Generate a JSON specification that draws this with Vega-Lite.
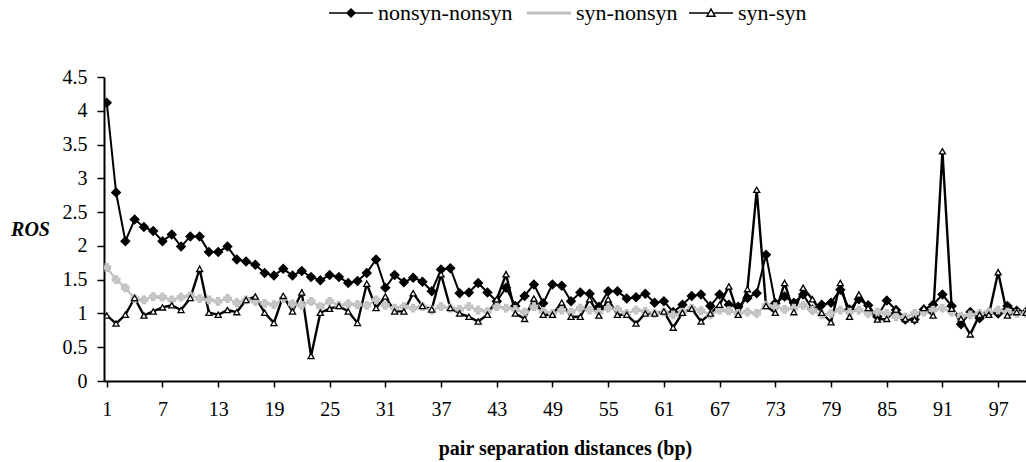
{
  "$schema": "https://vega.github.io/schema/vega-lite/v6.json",
  "width": 922,
  "height": 304,
  "autosize": {"type": "none"},
  "padding": {"left": 104, "top": 77, "right": 0, "bottom": 81},
  "background": "white",
  "config": {
    "view": {"stroke": null},
    "font": "Liberation Serif",
    "axis": {"grid": false, "labelFont": "Liberation Serif", "titleFont": "Liberation Serif", "labelColor": "#000", "titleColor": "#000", "domainColor": "#000", "tickColor": "#000"}
  },
  "data": {"values": [
    {"d":1,"nonsyn-nonsyn":4.12,"syn-nonsyn":1.68,"syn-syn":0.97},
    {"d":2,"nonsyn-nonsyn":2.79,"syn-nonsyn":1.50,"syn-syn":0.85},
    {"d":3,"nonsyn-nonsyn":2.07,"syn-nonsyn":1.38,"syn-syn":0.98},
    {"d":4,"nonsyn-nonsyn":2.39,"syn-nonsyn":1.22,"syn-syn":1.23},
    {"d":5,"nonsyn-nonsyn":2.28,"syn-nonsyn":1.20,"syn-syn":0.97},
    {"d":6,"nonsyn-nonsyn":2.22,"syn-nonsyn":1.25,"syn-syn":1.03},
    {"d":7,"nonsyn-nonsyn":2.07,"syn-nonsyn":1.24,"syn-syn":1.09},
    {"d":8,"nonsyn-nonsyn":2.17,"syn-nonsyn":1.20,"syn-syn":1.12},
    {"d":9,"nonsyn-nonsyn":1.99,"syn-nonsyn":1.24,"syn-syn":1.05},
    {"d":10,"nonsyn-nonsyn":2.14,"syn-nonsyn":1.26,"syn-syn":1.23},
    {"d":11,"nonsyn-nonsyn":2.14,"syn-nonsyn":1.22,"syn-syn":1.66},
    {"d":12,"nonsyn-nonsyn":1.91,"syn-nonsyn":1.20,"syn-syn":1.01},
    {"d":13,"nonsyn-nonsyn":1.91,"syn-nonsyn":1.18,"syn-syn":0.98},
    {"d":14,"nonsyn-nonsyn":1.99,"syn-nonsyn":1.22,"syn-syn":1.05},
    {"d":15,"nonsyn-nonsyn":1.80,"syn-nonsyn":1.16,"syn-syn":1.02},
    {"d":16,"nonsyn-nonsyn":1.77,"syn-nonsyn":1.20,"syn-syn":1.20},
    {"d":17,"nonsyn-nonsyn":1.72,"syn-nonsyn":1.18,"syn-syn":1.25},
    {"d":18,"nonsyn-nonsyn":1.60,"syn-nonsyn":1.15,"syn-syn":1.01},
    {"d":19,"nonsyn-nonsyn":1.56,"syn-nonsyn":1.13,"syn-syn":0.86},
    {"d":20,"nonsyn-nonsyn":1.66,"syn-nonsyn":1.22,"syn-syn":1.26},
    {"d":21,"nonsyn-nonsyn":1.56,"syn-nonsyn":1.14,"syn-syn":1.03},
    {"d":22,"nonsyn-nonsyn":1.63,"syn-nonsyn":1.12,"syn-syn":1.31},
    {"d":23,"nonsyn-nonsyn":1.54,"syn-nonsyn":1.18,"syn-syn":0.37},
    {"d":24,"nonsyn-nonsyn":1.49,"syn-nonsyn":1.10,"syn-syn":1.01},
    {"d":25,"nonsyn-nonsyn":1.57,"syn-nonsyn":1.18,"syn-syn":1.07},
    {"d":26,"nonsyn-nonsyn":1.54,"syn-nonsyn":1.12,"syn-syn":1.11},
    {"d":27,"nonsyn-nonsyn":1.45,"syn-nonsyn":1.14,"syn-syn":1.03},
    {"d":28,"nonsyn-nonsyn":1.48,"syn-nonsyn":1.13,"syn-syn":0.86},
    {"d":29,"nonsyn-nonsyn":1.60,"syn-nonsyn":1.12,"syn-syn":1.44},
    {"d":30,"nonsyn-nonsyn":1.80,"syn-nonsyn":1.20,"syn-syn":1.08},
    {"d":31,"nonsyn-nonsyn":1.38,"syn-nonsyn":1.12,"syn-syn":1.25},
    {"d":32,"nonsyn-nonsyn":1.57,"syn-nonsyn":1.08,"syn-syn":1.03},
    {"d":33,"nonsyn-nonsyn":1.46,"syn-nonsyn":1.10,"syn-syn":1.03},
    {"d":34,"nonsyn-nonsyn":1.53,"syn-nonsyn":1.08,"syn-syn":1.30},
    {"d":35,"nonsyn-nonsyn":1.47,"syn-nonsyn":1.10,"syn-syn":1.11},
    {"d":36,"nonsyn-nonsyn":1.33,"syn-nonsyn":1.05,"syn-syn":1.06},
    {"d":37,"nonsyn-nonsyn":1.65,"syn-nonsyn":1.10,"syn-syn":1.58},
    {"d":38,"nonsyn-nonsyn":1.67,"syn-nonsyn":1.08,"syn-syn":1.08},
    {"d":39,"nonsyn-nonsyn":1.30,"syn-nonsyn":1.06,"syn-syn":1.00},
    {"d":40,"nonsyn-nonsyn":1.31,"syn-nonsyn":1.10,"syn-syn":0.95},
    {"d":41,"nonsyn-nonsyn":1.45,"syn-nonsyn":1.05,"syn-syn":0.88},
    {"d":42,"nonsyn-nonsyn":1.31,"syn-nonsyn":1.03,"syn-syn":0.98},
    {"d":43,"nonsyn-nonsyn":1.18,"syn-nonsyn":1.10,"syn-syn":1.21},
    {"d":44,"nonsyn-nonsyn":1.38,"syn-nonsyn":1.08,"syn-syn":1.58},
    {"d":45,"nonsyn-nonsyn":1.11,"syn-nonsyn":1.06,"syn-syn":1.00},
    {"d":46,"nonsyn-nonsyn":1.26,"syn-nonsyn":1.02,"syn-syn":0.92},
    {"d":47,"nonsyn-nonsyn":1.43,"syn-nonsyn":1.10,"syn-syn":1.22},
    {"d":48,"nonsyn-nonsyn":1.15,"syn-nonsyn":1.03,"syn-syn":0.98},
    {"d":49,"nonsyn-nonsyn":1.43,"syn-nonsyn":1.00,"syn-syn":0.98},
    {"d":50,"nonsyn-nonsyn":1.41,"syn-nonsyn":1.05,"syn-syn":1.16},
    {"d":51,"nonsyn-nonsyn":1.18,"syn-nonsyn":1.02,"syn-syn":0.95},
    {"d":52,"nonsyn-nonsyn":1.31,"syn-nonsyn":1.08,"syn-syn":0.95},
    {"d":53,"nonsyn-nonsyn":1.29,"syn-nonsyn":1.05,"syn-syn":1.21},
    {"d":54,"nonsyn-nonsyn":1.10,"syn-nonsyn":1.02,"syn-syn":0.97},
    {"d":55,"nonsyn-nonsyn":1.33,"syn-nonsyn":1.08,"syn-syn":1.21},
    {"d":56,"nonsyn-nonsyn":1.33,"syn-nonsyn":1.06,"syn-syn":0.98},
    {"d":57,"nonsyn-nonsyn":1.22,"syn-nonsyn":1.00,"syn-syn":0.98},
    {"d":58,"nonsyn-nonsyn":1.24,"syn-nonsyn":1.05,"syn-syn":0.85},
    {"d":59,"nonsyn-nonsyn":1.29,"syn-nonsyn":1.03,"syn-syn":1.00},
    {"d":60,"nonsyn-nonsyn":1.16,"syn-nonsyn":1.00,"syn-syn":1.00},
    {"d":61,"nonsyn-nonsyn":1.18,"syn-nonsyn":1.02,"syn-syn":1.03},
    {"d":62,"nonsyn-nonsyn":1.02,"syn-nonsyn":0.98,"syn-syn":0.79},
    {"d":63,"nonsyn-nonsyn":1.13,"syn-nonsyn":1.02,"syn-syn":1.01},
    {"d":64,"nonsyn-nonsyn":1.26,"syn-nonsyn":1.08,"syn-syn":1.07},
    {"d":65,"nonsyn-nonsyn":1.28,"syn-nonsyn":1.04,"syn-syn":0.88},
    {"d":66,"nonsyn-nonsyn":1.11,"syn-nonsyn":0.98,"syn-syn":1.00},
    {"d":67,"nonsyn-nonsyn":1.28,"syn-nonsyn":1.05,"syn-syn":1.13},
    {"d":68,"nonsyn-nonsyn":1.13,"syn-nonsyn":1.04,"syn-syn":1.40},
    {"d":69,"nonsyn-nonsyn":1.10,"syn-nonsyn":1.00,"syn-syn":0.98},
    {"d":70,"nonsyn-nonsyn":1.23,"syn-nonsyn":1.02,"syn-syn":1.36},
    {"d":71,"nonsyn-nonsyn":1.30,"syn-nonsyn":1.00,"syn-syn":2.83},
    {"d":72,"nonsyn-nonsyn":1.87,"syn-nonsyn":1.12,"syn-syn":1.11},
    {"d":73,"nonsyn-nonsyn":1.15,"syn-nonsyn":1.10,"syn-syn":1.01},
    {"d":74,"nonsyn-nonsyn":1.25,"syn-nonsyn":1.06,"syn-syn":1.45},
    {"d":75,"nonsyn-nonsyn":1.16,"syn-nonsyn":1.08,"syn-syn":1.02},
    {"d":76,"nonsyn-nonsyn":1.28,"syn-nonsyn":1.12,"syn-syn":1.38},
    {"d":77,"nonsyn-nonsyn":1.06,"syn-nonsyn":1.05,"syn-syn":1.21},
    {"d":78,"nonsyn-nonsyn":1.13,"syn-nonsyn":0.98,"syn-syn":1.01},
    {"d":79,"nonsyn-nonsyn":1.16,"syn-nonsyn":1.00,"syn-syn":0.87},
    {"d":80,"nonsyn-nonsyn":1.35,"syn-nonsyn":1.05,"syn-syn":1.45},
    {"d":81,"nonsyn-nonsyn":1.06,"syn-nonsyn":1.02,"syn-syn":0.95},
    {"d":82,"nonsyn-nonsyn":1.21,"syn-nonsyn":1.05,"syn-syn":1.28},
    {"d":83,"nonsyn-nonsyn":1.12,"syn-nonsyn":1.00,"syn-syn":1.08},
    {"d":84,"nonsyn-nonsyn":0.95,"syn-nonsyn":1.02,"syn-syn":0.91},
    {"d":85,"nonsyn-nonsyn":1.19,"syn-nonsyn":1.00,"syn-syn":0.92},
    {"d":86,"nonsyn-nonsyn":1.05,"syn-nonsyn":0.95,"syn-syn":1.06},
    {"d":87,"nonsyn-nonsyn":0.91,"syn-nonsyn":0.95,"syn-syn":0.92},
    {"d":88,"nonsyn-nonsyn":0.91,"syn-nonsyn":1.00,"syn-syn":0.91},
    {"d":89,"nonsyn-nonsyn":1.06,"syn-nonsyn":1.02,"syn-syn":1.08},
    {"d":90,"nonsyn-nonsyn":1.13,"syn-nonsyn":1.05,"syn-syn":0.97},
    {"d":91,"nonsyn-nonsyn":1.28,"syn-nonsyn":1.08,"syn-syn":3.40},
    {"d":92,"nonsyn-nonsyn":1.11,"syn-nonsyn":1.02,"syn-syn":1.07},
    {"d":93,"nonsyn-nonsyn":0.84,"syn-nonsyn":0.96,"syn-syn":0.92},
    {"d":94,"nonsyn-nonsyn":1.02,"syn-nonsyn":0.98,"syn-syn":0.69},
    {"d":95,"nonsyn-nonsyn":0.93,"syn-nonsyn":1.00,"syn-syn":0.98},
    {"d":96,"nonsyn-nonsyn":1.01,"syn-nonsyn":1.02,"syn-syn":0.98},
    {"d":97,"nonsyn-nonsyn":1.00,"syn-nonsyn":1.05,"syn-syn":1.61},
    {"d":98,"nonsyn-nonsyn":1.11,"syn-nonsyn":1.02,"syn-syn":0.97},
    {"d":99,"nonsyn-nonsyn":1.04,"syn-nonsyn":1.00,"syn-syn":1.02},
    {"d":100,"nonsyn-nonsyn":1.02,"syn-nonsyn":1.00,"syn-syn":1.01}
  ]},
  "transform": [{"fold": ["nonsyn-nonsyn", "syn-nonsyn", "syn-syn"], "as": ["series", "ros"]}],
  "encoding": {
    "x": {"field": "d", "type": "quantitative",
      "scale": {"domain": [0.7, 100], "nice": false, "zero": false},
      "axis": {"values": [1,7,13,19,25,31,37,43,49,55,61,67,73,79,85,91,97],
        "title": "pair separation distances (bp)", "titleFontSize": 20, "titleFontWeight": "bold", "titlePadding": 19,
        "labelFontSize": 20, "tickSize": 6, "tickWidth": 1.5, "domainWidth": 2, "labelPadding": 12}},
    "y": {"field": "ros", "type": "quantitative",
      "scale": {"domain": [0, 4.5], "nice": false},
      "axis": {"values": [0,0.5,1,1.5,2,2.5,3,3.5,4,4.5], "format": "~g",
        "title": "ROS", "titleAngle": 0, "titleFontSize": 20, "titleFontWeight": "bold", "titleFontStyle": "italic",
        "titleX": -74, "titleY": 152, "titleAlign": "center", "titleBaseline": "middle",
        "labelFontSize": 20, "tickSize": 7, "tickWidth": 1.5, "domainWidth": 2, "labelPadding": 10}}
  },
  "layer": [
    {
      "mark": {"type": "line", "clip": true},
      "encoding": {
        "color": {"field": "series", "type": "nominal", "scale": {"domain": ["nonsyn-nonsyn", "syn-nonsyn", "syn-syn"], "range": ["#000000", "#c0c0c0", "#000000"]},
          "legend": {"orient": "none", "legendX": 236, "legendY": -75, "direction": "horizontal", "title": null,
            "labelFont": "Liberation Serif", "labelFontSize": 22, "labelColor": "#000", "labelOffset": 16, "columnPadding": 8, "symbolSize": 64,
            "encoding": {"symbols": {
              "shape": {"value": {"expr": "datum.value === 'syn-syn' ? 'M-5.5,0H-0.6M0.6,0H5.5M0,-1L1,0.8L-1,0.8Z' : datum.value === 'syn-nonsyn' ? 'M-5.5,0H5.5' : 'M-5.5,0H5.5M0,-1L1,0L0,1L-1,0Z'"}},
              "fill": {"value": {"expr": "datum.value === 'syn-syn' ? '#ffffff' : datum.value === 'syn-nonsyn' ? 'transparent' : '#000000'"}},
              "stroke": {"value": {"expr": "datum.value === 'syn-nonsyn' ? '#c0c0c0' : '#000000'"}},
              "strokeWidth": {"value": {"expr": "datum.value === 'syn-nonsyn' ? 3 : 1.5"}},
              "size": {"value": 64},
              "opacity": {"value": 1}
            }}}},
        "strokeWidth": {"field": "series", "type": "nominal", "scale": {"domain": ["nonsyn-nonsyn", "syn-nonsyn", "syn-syn", "~w"], "range": [2, 2.6, 1.6, 1]}, "legend": null}
      }
    },
    {
      "mark": {"type": "point", "clip": true, "opacity": 1, "strokeWidth": 1.3},
      "encoding": {
        "shape": {"field": "series", "type": "nominal",
          "scale": {"domain": ["nonsyn-nonsyn", "syn-nonsyn", "syn-syn", "~a"], "range": ["diamond", "cross", "triangle-up", "circle"]}, "legend": null},
        "fill": {"field": "series", "type": "nominal", "scale": {"domain": ["nonsyn-nonsyn", "syn-nonsyn", "syn-syn", "~b"], "range": ["#000000", "#c8c8c8", "#ffffff", "#ffffff"]}, "legend": null},
        "stroke": {"field": "series", "type": "nominal", "scale": {"domain": ["nonsyn-nonsyn", "syn-nonsyn", "syn-syn", "~c"], "range": ["#000000", "#c0c0c0", "#000000", "#000000"]}, "legend": null},
        "size": {"field": "series", "type": "nominal", "scale": {"domain": ["nonsyn-nonsyn", "syn-nonsyn", "syn-syn", "~d"], "range": [75, 18, 110, 10]}, "legend": null}
      }
    }
  ]
}
